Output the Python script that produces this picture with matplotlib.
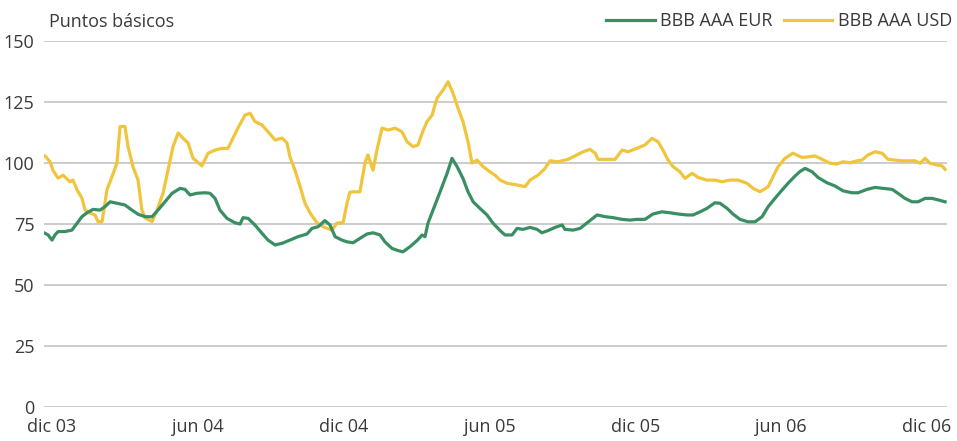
import matplotlib
matplotlib.use("Agg")
import matplotlib.pyplot as plt
from matplotlib.lines import Line2D

# months since Dec 2003
usd_x = [-0.29, -0.08, 0.04, 0.25, 0.45, 0.74, 0.86, 1.03, 1.23, 1.36, 1.56, 1.77, 1.89, 2.06,
         2.26, 2.47, 2.67, 2.80, 3.00, 3.13, 3.33, 3.54, 3.70, 3.83, 4.12, 4.32, 4.57, 4.77,
         4.98, 5.19, 5.39, 5.60, 5.80, 6.17, 6.42, 6.71, 7.00, 7.24, 7.45, 7.65, 7.94, 8.15,
         8.35, 8.64, 8.89, 9.18, 9.47, 9.67, 9.79, 10.00, 10.21, 10.41, 10.62, 10.91, 11.15,
         11.52, 11.73, 11.98, 12.14, 12.26, 12.39, 12.67, 12.88, 13.00, 13.21, 13.37, 13.58,
         13.83, 14.12, 14.40, 14.61, 14.86, 15.06, 15.23, 15.43, 15.64, 15.84, 16.09, 16.30,
         16.50, 16.71, 16.91, 17.12, 17.28, 17.49, 17.74, 18.02, 18.23, 18.44, 18.72, 19.14,
         19.47, 19.67, 20.00, 20.29, 20.49, 20.82, 21.23, 21.60, 21.85, 22.14, 22.35, 22.47,
         22.84, 23.17, 23.46, 23.70, 24.07, 24.40, 24.69, 24.94, 25.14, 25.35, 25.56, 25.84,
         26.05, 26.34, 26.58, 26.95, 27.28, 27.57, 27.90, 28.23, 28.60, 28.85, 29.14, 29.47,
         29.67, 29.88, 30.16, 30.49, 30.86, 31.19, 31.40, 31.69, 32.02, 32.30, 32.55, 32.84,
         33.13, 33.33, 33.58, 33.87, 34.16, 34.40, 34.69, 34.98, 35.23, 35.51, 35.72, 35.93,
         36.13, 36.42, 36.63, 36.75]
usd_y = [102.9, 100.5, 97.0, 93.8, 95.0, 92.3, 93.0, 89.0, 85.6, 80.7, 79.5, 78.7, 76.0, 76.0,
         89.0, 94.4, 100.0, 114.9, 115.0, 106.7, 98.5, 93.0, 80.7, 77.5, 76.0, 80.7, 87.7, 97.0,
         106.7, 112.3, 110.2, 108.2, 102.0, 98.8, 104.0, 105.3, 106.0, 106.0, 110.2, 114.3,
         119.6, 120.4, 117.0, 115.6, 112.8, 109.4, 110.2, 108.2, 102.6, 97.0, 90.3, 83.5, 79.5,
         75.4, 73.9, 72.5, 75.4, 75.5, 83.6, 88.0, 88.2, 88.2, 100.0, 103.3, 97.0, 105.3,
         114.3, 113.5, 114.3, 112.8, 108.7, 106.7, 107.4, 112.2, 117.0, 119.6, 126.5, 129.9,
         133.3, 128.6, 122.4, 117.0, 108.7, 100.0, 101.2, 98.5, 96.4, 95.0, 93.0, 91.7, 91.0,
         90.3, 93.0, 95.0, 97.8, 100.9, 100.5, 101.5, 103.3, 104.6, 105.6, 104.0, 101.5,
         101.5, 101.5, 105.3, 104.6, 106.0, 107.4, 110.1, 108.7, 105.3, 101.2, 98.5, 96.4,
         93.7, 95.8, 94.1, 93.0, 93.0, 92.3, 93.0, 93.0, 91.7, 89.6, 88.2, 90.3,
         94.4, 98.5, 101.9, 104.0, 102.3, 102.6, 102.9, 101.5, 99.9, 99.6, 100.5, 100.1,
         100.9, 101.2, 103.3, 104.6, 104.0, 101.5, 101.2, 100.9, 100.9, 100.9, 99.9, 101.9,
         99.9, 99.2, 98.8, 97.4]

eur_x = [-0.29, -0.16, 0.00, 0.12, 0.25, 0.53, 0.82, 1.03, 1.23, 1.44, 1.69, 1.98, 2.18, 2.39,
         2.67, 3.00, 3.29, 3.54, 3.83, 4.12, 4.36, 4.65, 4.94, 5.27, 5.47, 5.68, 5.97, 6.30,
         6.50, 6.71, 6.91, 7.20, 7.53, 7.74, 7.86, 8.07, 8.35, 8.64, 8.89, 9.18, 9.47, 9.79,
         10.12, 10.49, 10.70, 10.95, 11.23, 11.44, 11.65, 11.93, 12.14, 12.39, 12.67, 12.96,
         13.21, 13.50, 13.70, 13.99, 14.24, 14.44, 14.73, 15.02, 15.23, 15.35, 15.47, 15.68,
         15.97, 16.26, 16.46, 16.67, 16.91, 17.12, 17.33, 17.61, 17.90, 18.15, 18.44, 18.64,
         18.93, 19.14, 19.38, 19.67, 19.96, 20.16, 20.41, 20.70, 20.99, 21.11, 21.44, 21.73,
         22.02, 22.43, 22.76, 23.09, 23.46, 23.79, 24.07, 24.40, 24.73, 25.10, 25.43, 25.76,
         26.13, 26.38, 26.67, 26.95, 27.28, 27.49, 27.78, 28.02, 28.31, 28.64, 28.93, 29.22,
         29.47, 29.75, 30.04, 30.29, 30.58, 30.78, 30.99, 31.28, 31.52, 31.89, 32.22, 32.55,
         32.92, 33.17, 33.54, 33.87, 34.20, 34.57, 34.81, 35.10, 35.39, 35.64, 35.93, 36.21,
         36.46, 36.75]
eur_y = [71.2, 70.5, 68.4, 70.5, 71.9, 71.9, 72.5, 75.3, 78.0, 79.6, 81.0, 80.7, 82.1, 84.1,
         83.5, 82.8, 80.7, 79.0, 78.0, 78.0, 80.7, 84.1, 87.6, 89.6, 89.2, 86.9, 87.6, 87.8,
         87.6, 85.5, 80.7, 77.3, 75.5, 75.0, 77.6, 77.3, 74.6, 71.2, 68.4, 66.4, 67.1, 68.4,
         69.8, 70.9, 73.2, 73.9, 76.4, 74.6, 69.8, 68.4, 67.7, 67.3, 69.1, 70.9,
         71.4, 70.5, 67.7, 65.0, 64.1, 63.6, 65.7, 68.2, 70.5, 69.8, 75.3, 80.7,
         88.2, 95.8, 101.9, 98.5, 93.7, 88.2, 84.1, 81.4, 78.7, 75.3, 72.3, 70.5,
         70.5, 73.2, 72.8, 73.6, 72.8, 71.4, 72.3, 73.6, 74.6, 72.8, 72.5, 73.2,
         75.5, 78.7, 78.0, 77.6, 76.9, 76.6, 76.9, 76.9, 79.1, 80.0, 79.6, 79.1,
         78.7, 78.7, 80.0, 81.4, 83.7, 83.5, 81.4, 79.1, 76.9, 75.9, 75.9, 78.0,
         82.1, 85.5, 88.9, 91.7, 94.7, 96.5, 97.8, 96.4, 94.1, 91.9, 90.6, 88.6,
         87.8, 87.8, 89.2, 90.0, 89.6, 89.2, 87.6, 85.5, 84.1, 84.1, 85.5, 85.5,
         84.9, 84.1]

tick_pos = [0, 6, 12, 18, 24, 30, 36]
tick_labels = ["dic 03", "jun 04", "dic 04", "jun 05", "dic 05", "jun 06", "dic 06"]
y_ticks = [0, 25, 50, 75, 100, 125, 150]

GREEN = "#3a8f62"
YELLOW = "#f0c53c"
TXT = "#3a3a3a"
FONT = "Open Sans"
FS = 13

fig = plt.figure(figsize=(9.57, 4.41), dpi=100)
ax = fig.add_axes([44 / 957, 1 - 407 / 441, (947 - 44) / 957, (407 - 41) / 441])

ax.plot(usd_x, usd_y, color=YELLOW, lw=2.3, solid_joinstyle="round", zorder=3)
ax.plot(eur_x, eur_y, color=GREEN, lw=2.3, solid_joinstyle="round", zorder=4)

ax.set_xlim(-0.33, 36.83)
ax.set_ylim(0, 150)
ax.set_yticks(y_ticks)
ax.set_xticks(tick_pos)
ax.set_xticklabels(tick_labels)
for s in ax.spines.values():
    s.set_visible(False)
ax.grid(axis="y", color="#c4c4c4", lw=1.2)
ax.set_axisbelow(True)
ax.tick_params(axis="both", length=0, labelsize=FS, labelcolor=TXT)
ax.tick_params(axis="y", pad=7)
ax.tick_params(axis="x", pad=8)
for lab in ax.get_xticklabels() + ax.get_yticklabels():
    lab.set_fontfamily(FONT)

fig.text(49 / 957, 1 - 22 / 441, "Puntos básicos", fontsize=FS, color=TXT,
         family=FONT, va="center", ha="left")

handles = [Line2D([], [], color=GREEN, lw=2.3), Line2D([], [], color=YELLOW, lw=2.3)]
fig.legend(handles, ["BBB AAA EUR", "BBB AAA USD"], loc="center right",
           bbox_to_anchor=(952 / 957, 1 - 21 / 441), ncol=2, frameon=False,
           handlelength=2.7, handletextpad=0.3, columnspacing=0.6,
           borderaxespad=0, borderpad=0,
           prop={"family": FONT, "size": FS}, labelcolor=TXT)

fig.savefig("out.png", dpi=100)
